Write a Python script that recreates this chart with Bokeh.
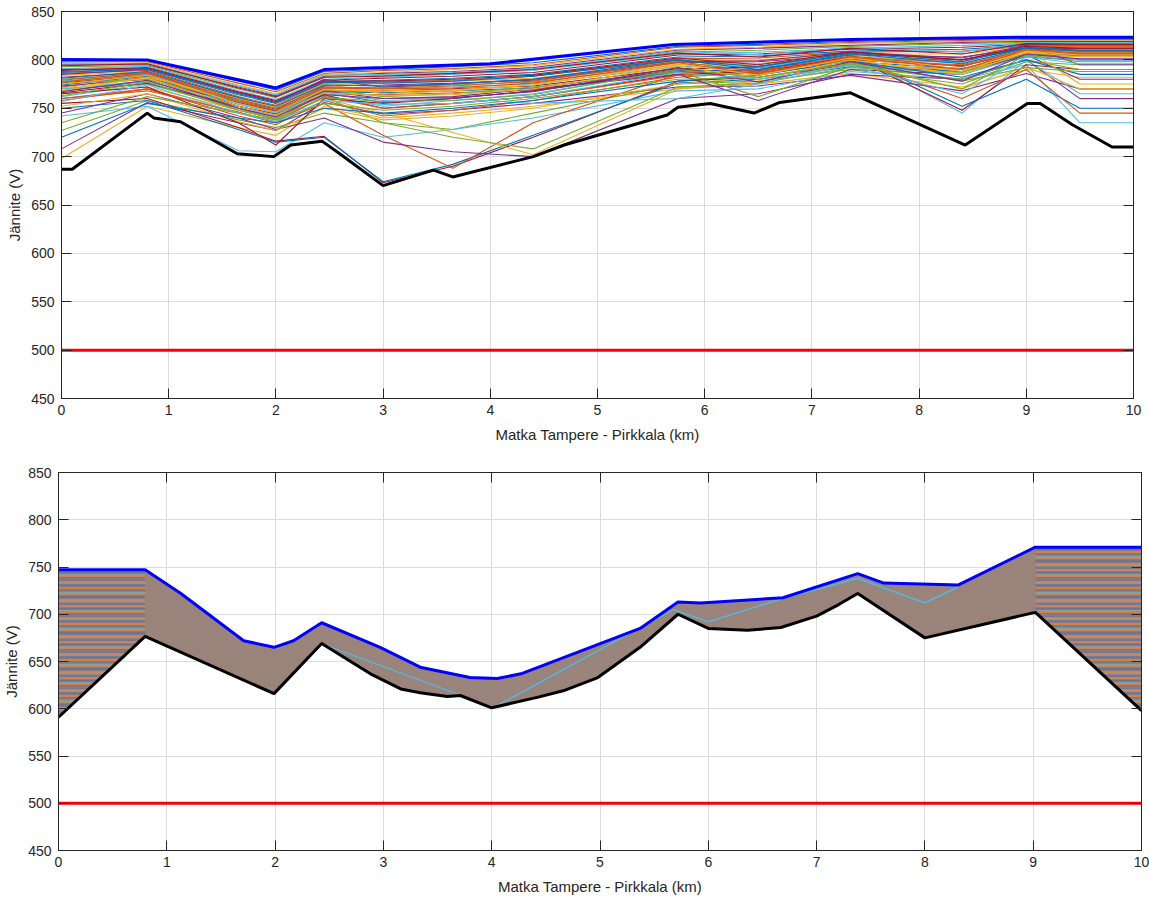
from bokeh.plotting import figure
from bokeh.models import Range1d, LinearAxis, FixedTicker, CustomJSTickFormatter
from bokeh.embed import file_html
from bokeh.resources import INLINE

# ---------------------------------------------------------------- labels / ticks
X_TICKS = [0, 1, 2, 3, 4, 5, 6, 7, 8, 9, 10]
Y_TICKS = [450, 500, 550, 600, 650, 700, 750, 800, 850]
X_LABEL = "Matka Tampere - Pirkkala (km)"
Y_LABEL = "Jännite (V)"

# minimum allowed line voltage
LIMIT_KM = [0, 10]
LIMIT_V = [500, 500]

# MATLAB default colour order, cycled over the train profiles
LINE_COLORS = ["#0072BD", "#D95319", "#EDB120", "#7E2F8E",
               "#77AC30", "#4DBEEE", "#A2142F"]

# ---------------------------------------------------------------- upper panel
# voltage profiles along the line, one per train position (V at each km point)
KNOT_KM = [0, 0.8, 1.65, 2.0, 2.45, 3.0, 3.65, 4.4, 5.75, 6.5, 7.36, 8.4, 9.0, 9.5, 10]
TRAIN_PROFILES = [
    [799, 799, 778, 769, 788, 790, 793, 797, 814, 816, 819, 821, 822, 822, 822],
    [798, 798, 776, 767, 786, 789, 791, 795, 813, 815, 818, 820, 821, 821, 821],
    [796, 797, 774, 765, 785, 787, 790, 794, 811, 813, 817, 819, 820, 820, 820],
    [795, 795, 772, 763, 783, 786, 788, 792, 810, 812, 815, 818, 819, 819, 819],
    [793, 794, 770, 761, 782, 784, 786, 790, 808, 810, 814, 817, 818, 818, 818],
    [791, 793, 768, 759, 780, 782, 785, 789, 806, 808, 812, 815, 817, 817, 817],
    [790, 791, 766, 757, 779, 781, 783, 787, 805, 806, 811, 813, 816, 816, 816],
    [788, 790, 764, 755, 777, 779, 781, 785, 803, 804, 809, 811, 815, 815, 815],
    [786, 789, 762, 753, 776, 777, 779, 783, 801, 802, 808, 809, 814, 814, 814],
    [784, 788, 760, 751, 774, 776, 778, 781, 799, 800, 806, 806, 813, 813, 813],
    [782, 787, 758, 749, 773, 774, 776, 779, 797, 798, 805, 803, 812, 812, 812],
    [780, 786, 756, 747, 771, 772, 774, 777, 795, 796, 803, 800, 811, 811, 811],
    [778, 785, 754, 745, 770, 770, 772, 775, 793, 794, 801, 797, 810, 810, 810],
    [776, 784, 752, 743, 768, 768, 770, 773, 791, 792, 800, 794, 808, 808, 808],
    [774, 783, 750, 741, 767, 766, 768, 771, 789, 789, 798, 791, 806, 806, 806],
    [772, 782, 748, 739, 765, 764, 766, 769, 787, 787, 796, 788, 804, 804, 804],
    [698, 752, 730, 722, 752, 740, 745, 752, 770, 775, 786, 772, 790, 782, 782],
    [708, 756, 735, 727, 756, 744, 748, 755, 772, 773, 784, 768, 786, 770, 770],
    [727, 758, 738, 730, 745, 735, 728, 745, 775, 778, 790, 775, 798, 795, 795],
    [742, 752, 706, 705, 735, 720, 728, 740, 768, 770, 788, 780, 795, 735, 735],
    [755, 760, 730, 716, 721, 673, 690, 720, 778, 782, 795, 790, 805, 805, 805],
    [750, 758, 728, 715, 720, 674, 692, 722, 776, 780, 793, 788, 803, 800, 800],
    [760, 770, 745, 735, 755, 722, 688, 735, 785, 790, 800, 795, 810, 810, 810],
    [765, 772, 748, 740, 760, 745, 725, 702, 770, 778, 795, 790, 808, 808, 808],
    [745, 765, 740, 728, 740, 715, 705, 700, 760, 765, 785, 780, 800, 760, 760],
    [770, 775, 750, 738, 762, 735, 720, 708, 772, 776, 792, 787, 806, 806, 806],
    [762, 775, 752, 742, 763, 752, 758, 765, 790, 792, 806, 745, 800, 765, 765],
    [766, 776, 752, 744, 764, 750, 755, 762, 785, 788, 803, 748, 795, 790, 790],
    [768, 778, 755, 746, 766, 756, 760, 768, 788, 790, 805, 752, 780, 750, 750],
    [758, 770, 742, 733, 758, 742, 748, 758, 782, 787, 800, 760, 790, 745, 745],
    [752, 765, 736, 727, 750, 738, 742, 750, 775, 782, 797, 770, 793, 770, 770],
    [773, 780, 756, 747, 768, 760, 762, 770, 785, 758, 790, 785, 805, 780, 780],
    [776, 780, 758, 748, 770, 762, 765, 772, 788, 762, 793, 780, 800, 790, 790],
    [770, 778, 755, 745, 766, 758, 760, 755, 760, 775, 795, 785, 804, 800, 800],
    [765, 772, 735, 712, 760, 755, 760, 768, 790, 793, 808, 800, 812, 812, 812],
    [720, 755, 740, 735, 750, 745, 750, 758, 778, 784, 799, 782, 800, 785, 785],
    [760, 768, 746, 736, 762, 750, 755, 762, 784, 786, 802, 798, 815, 815, 815],
    [768, 782, 760, 752, 775, 765, 768, 774, 795, 796, 806, 790, 811, 775, 775],
    [785, 790, 766, 756, 780, 772, 775, 780, 798, 799, 808, 802, 815, 795, 795],
    [735, 762, 745, 738, 755, 748, 752, 760, 780, 782, 797, 778, 792, 788, 788],
    [797, 796, 773, 764, 784, 785, 787, 791, 809, 805, 813, 808, 818, 818, 818],
    [789, 792, 767, 758, 778, 778, 780, 784, 802, 795, 808, 800, 814, 812, 812],
    [781, 788, 761, 752, 774, 773, 775, 780, 800, 790, 806, 796, 812, 809, 809],
    [777, 786, 757, 748, 771, 770, 771, 776, 797, 785, 803, 790, 810, 806, 806],
    [771, 781, 752, 743, 766, 763, 764, 770, 794, 780, 800, 785, 808, 803, 803],
    [767, 779, 750, 741, 764, 760, 761, 767, 792, 777, 798, 778, 806, 801, 801],
    [763, 777, 748, 739, 761, 757, 758, 764, 790, 782, 796, 770, 805, 798, 798],
    [757, 774, 745, 736, 758, 754, 755, 762, 787, 780, 794, 765, 803, 796, 796],
    [794, 796, 771, 762, 782, 783, 786, 790, 807, 803, 812, 806, 817, 816, 816],
    [787, 791, 765, 756, 777, 776, 778, 783, 800, 793, 807, 798, 813, 810, 810],
    [779, 787, 759, 750, 772, 771, 773, 778, 798, 788, 804, 793, 811, 807, 807],
    [775, 784, 755, 746, 769, 768, 769, 774, 796, 784, 802, 788, 809, 805, 805],
]

# envelope of all profiles: lowest (black) and highest (blue) voltage
TOP_MIN_KM = [0, 0.1, 0.80, 0.86, 1.11, 1.64, 1.98, 2.14, 2.43, 2.57, 3.0, 3.47,
              3.65, 4.40, 4.69, 5.65, 5.75, 6.05, 6.46, 6.70, 7.36, 8.43, 9.01,
              9.13, 9.43, 9.80, 10.0]
TOP_MIN_V = [687, 687, 745, 740, 736, 703, 700, 712, 716, 705, 670, 686,
             679, 700, 712, 743, 751, 755, 745, 756, 766, 712, 755,
             755, 733, 710, 710]
TOP_MAX_KM = [0, 0.8, 2.0, 2.45, 3.0, 4.0, 5.71, 7.36, 9.0, 10]
TOP_MAX_V = [800.5, 800, 771, 790, 792, 796, 816, 821, 823.5, 823.5]

# ---------------------------------------------------------------- lower panel
BOT_MIN_KM = [0, 0.80, 1.99, 2.43, 2.88, 3.16, 3.34, 3.59, 3.71, 4.0, 4.42, 4.66,
              4.98, 5.37, 5.72, 6.0, 6.36, 6.67, 7.0, 7.2, 7.38, 8.0, 9.02, 10.0]
BOT_MIN_V = [591, 676.5, 616, 669, 637, 621, 617, 613, 614, 601, 612, 619,
             633, 665, 700, 685, 683, 686, 698, 710, 722, 675, 702, 598]
BOT_MAX_KM = [0, 0.80, 1.13, 1.71, 1.99, 2.17, 2.43, 2.97, 3.34, 3.80, 4.05, 4.27,
              5.37, 5.72, 5.93, 6.69, 7.38, 7.62, 8.31, 9.02, 10.0]
BOT_MAX_V = [747, 747, 722, 672, 665, 672, 691, 665, 644, 633, 632, 637,
             685, 713, 712, 717.5, 743, 733, 731, 771, 771]

# a couple of individual profiles that stand out inside the dense band
BOT_TRACE_KM = [[2.45, 3.72],
                [4.03, 5.68, 6.0, 6.67, 7.38, 8.0, 8.31]]
BOT_TRACE_V = [[668, 614],
               [602, 705, 692, 716, 738, 712, 729]]

FONT = "Liberation Sans"
INK = "#262626"


def styled_figure(height, left, right, top, bottom):
    p = figure(width=1149, height=height, output_backend="svg", toolbar_location=None,
               x_range=Range1d(0, 10), y_range=Range1d(450, 850),
               min_border_left=left, min_border_right=right,
               min_border_top=top, min_border_bottom=bottom,
               background_fill_color="white", border_fill_color="white")
    p.outline_line_color = INK
    p.outline_line_width = 1
    for ax, ticks in ((p.xaxis[0], X_TICKS), (p.yaxis[0], Y_TICKS)):
        ax.ticker = FixedTicker(ticks=ticks)
        ax.major_tick_in = 10
        ax.major_tick_out = 0
        ax.minor_tick_line_color = None
        ax.axis_line_color = INK
        ax.major_tick_line_color = INK
        ax.major_label_text_font = FONT
        ax.major_label_text_font_size = "14px"
        ax.major_label_text_color = INK
        ax.axis_label_text_font = FONT
        ax.axis_label_text_font_size = "15px"
        ax.axis_label_text_font_style = "normal"
        ax.axis_label_text_color = INK
    p.xaxis.axis_label = X_LABEL
    p.yaxis.axis_label = Y_LABEL
    p.xaxis.major_label_standoff = 6
    p.xaxis.axis_label_standoff = 8
    p.yaxis.major_label_standoff = 7
    p.yaxis.axis_label_standoff = 5

    # tick marks on the opposite sides of the box
    blank = CustomJSTickFormatter(code="return ''")
    for loc, ticks in (("above", X_TICKS), ("right", Y_TICKS)):
        ax = LinearAxis(ticker=FixedTicker(ticks=ticks), formatter=blank,
                        major_tick_in=10, major_tick_out=0,
                        minor_tick_line_color=None, major_label_standoff=0,
                        major_label_text_font_size="0px", axis_label_standoff=0,
                        axis_line_color=INK, major_tick_line_color=INK)
        p.add_layout(ax, loc)

    for g, ticks in ((p.xgrid[0], X_TICKS), (p.ygrid[0], Y_TICKS)):
        g.ticker = FixedTicker(ticks=ticks)
        g.grid_line_color = "#dcdcdc"
        g.grid_line_width = 1
    return p


# ---------------------------------------------------------------- upper panel
top = styled_figure(452, 61, 16, 11, 54)
n = len(TRAIN_PROFILES)
top.multi_line(xs=[KNOT_KM] * n, ys=TRAIN_PROFILES,
               line_color=[LINE_COLORS[i % len(LINE_COLORS)] for i in range(n)],
               line_width=1.1)
top.line(TOP_MIN_KM, TOP_MIN_V, line_color="black", line_width=3)
top.line(TOP_MAX_KM, TOP_MAX_V, line_color="#0000FF", line_width=3)
top.line(LIMIT_KM, LIMIT_V, line_color="#FF0000", line_width=3)

# ---------------------------------------------------------------- lower panel
bot = styled_figure(447, 58, 8, 20, 49)

band_x = BOT_MIN_KM + BOT_MAX_KM[::-1]
band_y = BOT_MIN_V + BOT_MAX_V[::-1]
bot.patch(band_x, band_y, fill_color="#9a887c", line_color=None)

# flat sections at both ends: horizontal stripes of the stacked profiles
for lo, hi in ((slice(0, 2), slice(0, 2)), (slice(-2, None), slice(-2, None))):
    ex = BOT_MIN_KM[lo] + BOT_MAX_KM[hi][::-1]
    ey = BOT_MIN_V[lo] + BOT_MAX_V[hi][::-1]
    bot.patch(ex, ey, fill_color="#6f7392", line_color=None)
    bot.patch(ex, ey, fill_alpha=0, line_color=None, hatch_pattern="horizontal_line",
              hatch_color="#E08040", hatch_scale=6, hatch_weight=2.2, hatch_alpha=0.95)
    bot.patch(ex, ey, fill_alpha=0, line_color=None, hatch_pattern="horizontal_line",
              hatch_color="#7fb0a8", hatch_scale=9, hatch_weight=1.5, hatch_alpha=0.8)
    bot.patch(ex, ey, fill_alpha=0, line_color=None, hatch_pattern="horizontal_line",
              hatch_color="#a09080", hatch_scale=4, hatch_weight=1.0, hatch_alpha=0.6)

# sloping middle section: fine criss-crossing profiles
mx = BOT_MIN_KM[1:-1] + BOT_MAX_KM[1:-1][::-1]
my = BOT_MIN_V[1:-1] + BOT_MAX_V[1:-1][::-1]
bot.patch(mx, my, fill_alpha=0, line_color=None, hatch_pattern="right_diagonal_line",
          hatch_color="#c07a50", hatch_scale=4, hatch_weight=0.8, hatch_alpha=0.45)
bot.patch(mx, my, fill_alpha=0, line_color=None, hatch_pattern="left_diagonal_line",
          hatch_color="#6a6f98", hatch_scale=5, hatch_weight=0.8, hatch_alpha=0.35)

bot.multi_line(xs=BOT_TRACE_KM, ys=BOT_TRACE_V, line_color="#4DBEEE", line_width=1.2)
bot.line(BOT_MIN_KM, BOT_MIN_V, line_color="black", line_width=3)
bot.line(BOT_MAX_KM, BOT_MAX_V, line_color="#0000FF", line_width=3)
bot.line(LIMIT_KM, LIMIT_V, line_color="#FF0000", line_width=3)

# two independent roots stacked on the page, each keeping its own frame
open("out.html", "w").write(file_html([top, bot], INLINE))
